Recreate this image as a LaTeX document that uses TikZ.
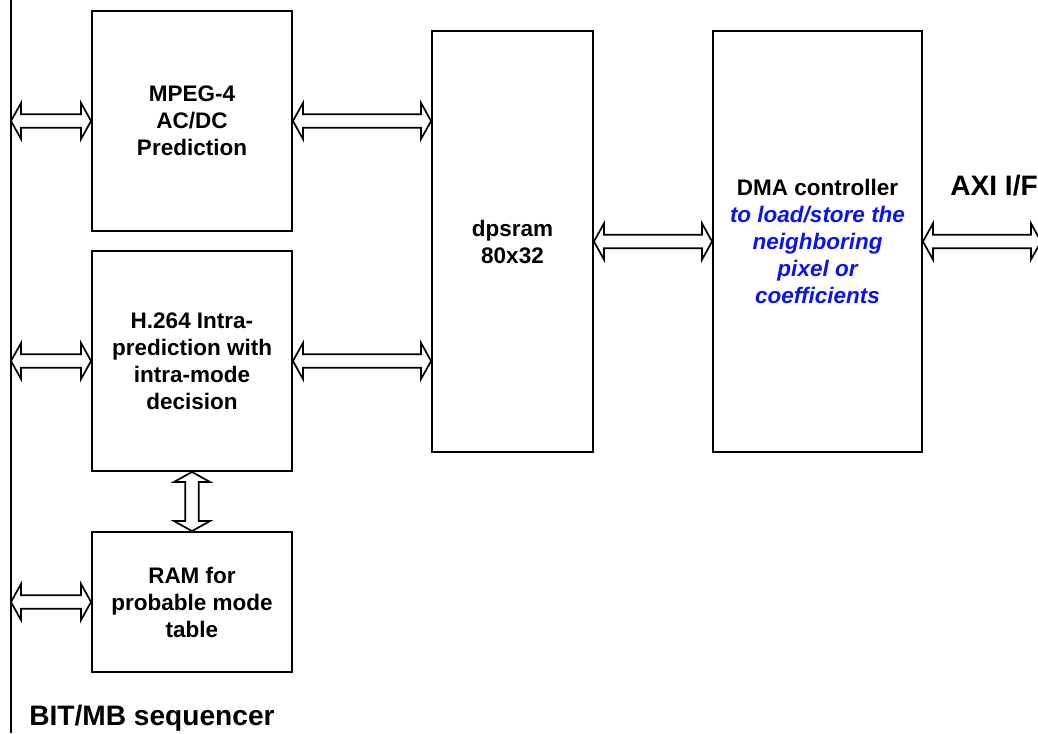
\documentclass[tikz,border=0pt]{standalone}
\usepackage{fontspec}
\setmainfont{Liberation Sans}
\usepackage{tikz}
\usetikzlibrary{positioning, calc}
\usepackage{xcolor}
\definecolor{dmablue}{HTML}{0A14F0}

% hollow double-headed block arrows between two points
\newcommand{\hbiarrow}[2]{%
  \draw[blockarrow] let \p1=(#1), \p2=(#2) in
    (\x1,\y1) -- (\x1+0.25cm,\y1+0.45cm) -- (\x1+0.25cm,\y1+0.17cm)
    -- (\x2-0.25cm,\y1+0.17cm) -- (\x2-0.25cm,\y1+0.45cm) -- (\x2,\y1)
    -- (\x2-0.25cm,\y1-0.45cm) -- (\x2-0.25cm,\y1-0.17cm)
    -- (\x1+0.25cm,\y1-0.17cm) -- (\x1+0.25cm,\y1-0.45cm) -- cycle;}
\newcommand{\vbiarrow}[2]{%
  \draw[blockarrow] let \p1=(#1), \p2=(#2) in
    (\x1,\y1) -- (\x1+0.45cm,\y1-0.25cm) -- (\x1+0.17cm,\y1-0.25cm)
    -- (\x1+0.17cm,\y2+0.25cm) -- (\x1+0.45cm,\y2+0.25cm) -- (\x1,\y2)
    -- (\x1-0.45cm,\y2+0.25cm) -- (\x1-0.17cm,\y2+0.25cm)
    -- (\x1-0.17cm,\y1-0.25cm) -- (\x1-0.45cm,\y1-0.25cm) -- cycle;}

\begin{document}
\begin{tikzpicture}[
    x=0.025cm, y=-0.025cm,
    every node/.style={font=\bfseries\fontsize{16}{19.2}\selectfont},
    blk/.style={draw, line width=1.3pt, minimum width=5cm, align=center, inner sep=2pt},
    blockarrow/.style={draw, fill=white, line width=1.2pt, line join=miter},
    bigtext/.style={font=\bfseries\fontsize{20}{24}\selectfont, inner sep=0pt}
]
    \useasboundingbox (0,0) rectangle (1038,733);

    % Bus on the left
    \coordinate (bustop) at (11,0);
    \coordinate (busbot) at (11,733);
    \draw[line width=1.3pt] (bustop) -- (busbot);
    \node[bigtext, anchor=base west] (busname) at (29,725) {BIT/MB sequencer};

    % Blocks
    \node[blk, minimum height=5.5cm] (mpeg) at (192,121) {MPEG-4\\AC/DC\\Prediction};
    \node[blk, minimum height=5.5cm] (intra) at (192,361) {H.264 Intra-\\prediction with\\intra-mode\\decision};
    \node[blk, minimum height=3.5cm] (ram) at (192,602) {RAM for\\probable mode\\table};
    \node[blk, minimum width=4.025cm, minimum height=10.525cm] (dpsram) at (512.5,241.5) {dpsram\\80x32};
    \node[blk, minimum width=5.225cm, minimum height=10.525cm] (dma) at (817.5,241.5)
        {DMA controller\\{\itshape\color{dmablue}to load/store the}\\{\itshape\color{dmablue}neighboring}\\{\itshape\color{dmablue}pixel or}\\{\itshape\color{dmablue}coefficients}};

    % AXI side
    \coordinate (axi) at (1041,241.5);
    \node[bigtext, anchor=base west] (axiname) at (950,195) {AXI I/F};

    % Connections
    \hbiarrow{bustop |- mpeg.west}{mpeg.west}
    \hbiarrow{bustop |- intra.west}{intra.west}
    \hbiarrow{bustop |- ram.west}{ram.west}
    \hbiarrow{mpeg.east}{dpsram.west |- mpeg.east}
    \hbiarrow{intra.east}{dpsram.west |- intra.east}
    \hbiarrow{dpsram.east}{dma.west}
    \hbiarrow{dma.east}{axi}
    \vbiarrow{intra.south}{ram.north}
\end{tikzpicture}
\end{document}
